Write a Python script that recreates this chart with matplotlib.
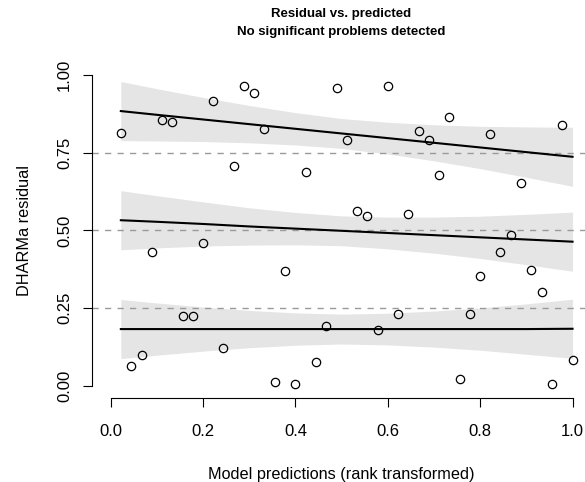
import matplotlib
matplotlib.use("Agg")
import matplotlib.pyplot as plt

plt.rcParams['font.family'] = ['Liberation Sans', 'DejaVu Sans']

# rank transformed predictions and scaled residuals
pred_rank = [0.022, 0.044, 0.067, 0.089, 0.111, 0.133, 0.156, 0.178, 0.200, 0.222,
             0.244, 0.267, 0.289, 0.311, 0.333, 0.356, 0.378, 0.400, 0.422, 0.444,
             0.467, 0.489, 0.511, 0.533, 0.556, 0.578, 0.600, 0.622, 0.644, 0.667,
             0.689, 0.711, 0.733, 0.756, 0.778, 0.800, 0.822, 0.844, 0.867, 0.889,
             0.911, 0.933, 0.956, 0.978, 1.000]
resid = [0.813, 0.064, 0.099, 0.430, 0.856, 0.850, 0.224, 0.226, 0.461, 0.916,
         0.123, 0.708, 0.964, 0.943, 0.825, 0.013, 0.371, 0.006, 0.689, 0.078,
         0.192, 0.957, 0.792, 0.562, 0.548, 0.180, 0.965, 0.231, 0.554, 0.820,
         0.792, 0.677, 0.866, 0.022, 0.232, 0.355, 0.809, 0.432, 0.485, 0.652,
         0.373, 0.302, 0.006, 0.839, 0.084]

# quantile fits (0.25, 0.5, 0.75) and their confidence half widths
grid_x = [0.022, 0.1, 0.2, 0.3, 0.4, 0.5, 0.6, 0.7, 0.8, 0.9, 1.0]
fit_q25 = [0.183, 0.183, 0.183, 0.183, 0.183, 0.183, 0.183, 0.183, 0.183, 0.183, 0.184]
fit_q50 = [0.533, 0.528, 0.521, 0.513, 0.506, 0.499, 0.492, 0.485, 0.478, 0.471, 0.464]
fit_q75 = [0.884, 0.872, 0.857, 0.842, 0.827, 0.812, 0.797, 0.782, 0.767, 0.752, 0.737]
ci_half = [0.095, 0.084, 0.071, 0.060, 0.052, 0.048, 0.051, 0.058, 0.068, 0.081, 0.095]

ref_lines = [0.25, 0.5, 0.75]

fig = plt.figure(figsize=(5.85, 4.82), dpi=100)
ax = fig.add_axes([0.1576, 0.1734, 0.8527, 0.6968])
ax.set_xlim(-0.04, 1.04)
ax.set_ylim(-0.04, 1.04)

for fit in [fit_q25, fit_q50, fit_q75]:
    lo = [f - h for f, h in zip(fit, ci_half)]
    hi = [f + h for f, h in zip(fit, ci_half)]
    ax.fill_between(grid_x, lo, hi, color='#E5E5E5', lw=0, zorder=1)

for r in ref_lines:
    ax.axhline(r, color='#9a9a9a', lw=1, dashes=(4.5, 4.5), zorder=2)

ax.plot(pred_rank, resid, 'o', mfc='none', mec='black', ms=6, mew=0.9, zorder=3)

for fit in [fit_q25, fit_q50, fit_q75]:
    ax.plot(grid_x, fit, color='black', lw=1.5, zorder=4)

# R style detached axes
for s in ['top', 'right']:
    ax.spines[s].set_visible(False)
ax.spines['left'].set_bounds(0, 1)
ax.spines['bottom'].set_bounds(0, 1)
ax.set_xticks([0, 0.2, 0.4, 0.6, 0.8, 1.0])
ax.set_xticklabels(['0.0', '0.2', '0.4', '0.6', '0.8', '1.0'])
ax.set_yticks([0, 0.25, 0.5, 0.75, 1.0])
ax.set_yticklabels(['0.00', '0.25', '0.50', '0.75', '1.00'])
ax.tick_params(length=6.5, width=0.8, labelsize=12)
ax.tick_params(axis='x', pad=12)
ax.tick_params(axis='y', pad=8)
plt.setp(ax.get_yticklabels(), rotation=90, va='center')

ax.set_xlabel('Model predictions (rank transformed)', fontsize=11.7, labelpad=20)
ax.set_ylabel('DHARMa residual', fontsize=11.7, labelpad=18)

fig.text(0.5838, 0.971, 'Residual vs. predicted', ha='center', va='center',
         fontsize=9.5, fontweight='bold')
fig.text(0.5838, 0.934, 'No significant problems detected', ha='center', va='center',
         fontsize=9.5, fontweight='bold')

fig.savefig('out.png', dpi=100)
